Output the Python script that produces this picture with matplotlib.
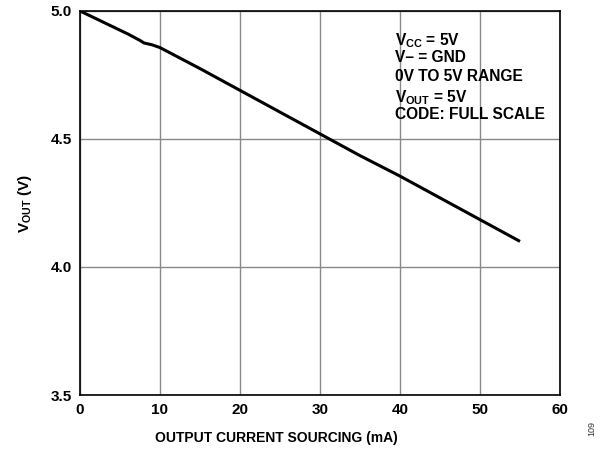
import matplotlib
matplotlib.use('Agg')
import matplotlib.pyplot as plt

plt.rcParams['font.family'] = ['Liberation Sans', 'DejaVu Sans']
plt.rcParams['font.weight'] = 'bold'
plt.rcParams['mathtext.fontset'] = 'custom'
plt.rcParams['mathtext.bf'] = 'Liberation Sans:bold'
plt.rcParams['mathtext.rm'] = 'Liberation Sans:bold'
plt.rcParams['mathtext.default'] = 'bf'

# 输出电流 (mA) 与输出电压 (V)
current_ma = [0, 2, 4, 6, 7.5, 8, 9, 10, 15, 20, 25, 30, 35, 40, 45, 50, 55]
vout = [5.0, 4.97, 4.94, 4.91, 4.885, 4.875, 4.868, 4.857, 4.775, 4.69,
        4.605, 4.52, 4.435, 4.355, 4.27, 4.185, 4.10]

x_ticks = [0, 10, 20, 30, 40, 50, 60]
y_ticks = [3.5, 4.0, 4.5, 5.0]

notes = [r'V$_{CC}$ = 5V', 'V– = GND', '0V TO 5V RANGE',
         r'V$_{OUT}$ = 5V', 'CODE: FULL SCALE']

fig = plt.figure(figsize=(6.05, 4.5), dpi=100)
ax = fig.add_axes([0.1322, 0.1222, 0.7934, 0.8534])

ax.plot(current_ma, vout, color='black', linewidth=2.2, solid_capstyle='butt')

ax.set_xlim(0, 60)
ax.set_ylim(3.5, 5.0)
ax.set_xticks(x_ticks)
ax.set_yticks(y_ticks)
ax.set_yticklabels([f'{v:.1f}' for v in y_ticks])
ax.grid(True, color='#888888', linewidth=1.0)
ax.tick_params(length=0, labelsize=11, pad=6)
for lbl in ax.get_xticklabels() + ax.get_yticklabels():
    lbl.set_fontweight('bold')
for sp in ax.spines.values():
    sp.set_linewidth(1.2)
    sp.set_color('black')

# x 轴标题在参考图中略偏左
fig.text(276 / 605, 1 - 438 / 450, 'OUTPUT CURRENT SOURCING (mA)', fontsize=10,
         fontweight='bold', ha='center', va='center')
ax.set_ylabel(r'V$_{OUT}$ (V)', fontsize=11, fontweight='bold', labelpad=12)

y0 = 0.947
for i, t in enumerate(notes):
    ax.text(0.657, y0 - i * 0.0495, t, transform=ax.transAxes, fontsize=11.2,
            fontweight='bold', va='top', ha='left')

fig.text(0.978, 0.03, '109', rotation=90, fontsize=6.5, color='#333333',
         fontweight='normal', ha='center', va='bottom')

fig.savefig('out.png', dpi=100)
plt.close(fig)
